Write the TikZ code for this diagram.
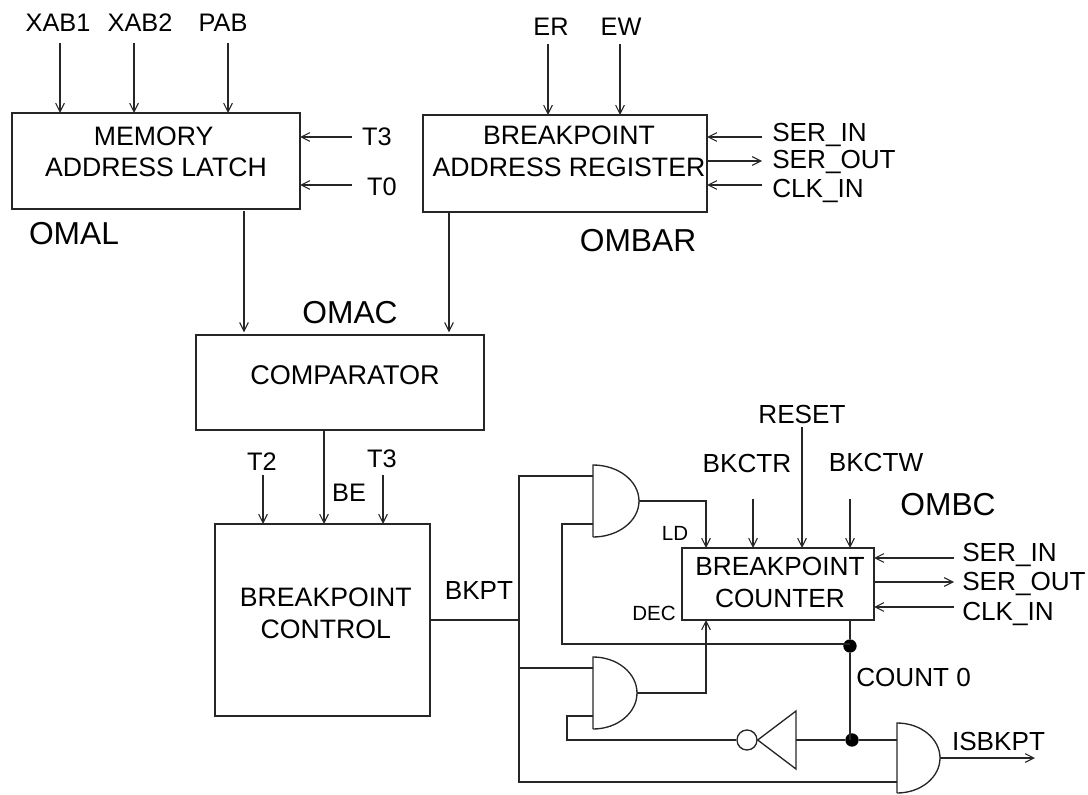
\documentclass[tikz,border=0pt]{standalone}
\usepackage{fontspec}
\setmainfont{Liberation Sans}
\usetikzlibrary{arrows.meta}
\tikzset{
  x=0.75pt,y=-0.75pt,
  wire/.style={draw=black!85,line width=1pt},
  arr/.style={wire,-{Straight Barb[length=6.5pt,width=6.5pt,line width=.8pt]}},
  bx/.style n args={2}{draw=black!85,line width=1pt,inner sep=0pt,outer sep=0pt,align=center,
    font=\fontsize{20}{23.5}\selectfont,minimum width=#1*0.75pt,minimum height=#2*0.75pt},
  txt/.style={inner sep=0pt,font=\fontsize{19.6}{22}\selectfont},
  toptxt/.style={inner sep=0pt,font=\fontsize{19}{22}\selectfont},
  big/.style={inner sep=0pt,font=\fontsize{23.8}{26}\selectfont},
  small/.style={inner sep=0pt,font=\fontsize{15.4}{18}\selectfont},
  gatebox/.style n args={2}{inner sep=0pt,outer sep=0pt,minimum width=#1*0.75pt,minimum height=#2*0.75pt},
  dot/.style={circle,fill=black,inner sep=0pt,minimum size=10pt},
}
\newcommand{\andgate}[5]{% name, x left, y top, width, height
  \node[gatebox={#4}{#5},anchor=north west] (#1) at (#2,#3) {};
  \draw[wire] (#1.south west) -- (#1.north west)
    arc[start angle=90,end angle=-90,x radius=#4*0.75pt,y radius=#5*0.375pt];
}
\begin{document}
\begin{tikzpicture}
\useasboundingbox (0,0) rectangle (1088,795);
% boxes
\node[bx={288}{96}] (mal) at (156,161) {MEMORY\hspace*{3.5pt}\\ADDRESS LATCH\hspace*{3.5pt}\\[-16.75pt]\strut};
\node[bx={284}{97}] (bar) at (565,163.5) {\hspace*{6pt}BREAKPOINT\\\hspace*{6pt}ADDRESS REGISTER\\[-12.25pt]\strut};
\node[bx={288}{95}] (cmp) at (340,382.5) {\hspace*{7.5pt}\fontsize{20.3}{23.5}\selectfont COMPARATOR\\[-19pt]\strut};
\node[bx={215}{192}] (ctl) at (322.5,620) {\hspace*{5pt}BREAKPOINT\\\hspace*{5pt}CONTROL\\[-20.5pt]\strut};
\node[bx={192}{72}] (cnt) at (778,584) {\hspace*{3pt}\fontsize{19.7}{23.5}\selectfont BREAKPOINT\\\hspace*{3pt}\fontsize{19.7}{23.5}\selectfont COUNTER\\[-28pt]\strut};
% top labels
\node[toptxt] (lxab1) at (58,23) {XAB1};
\node[toptxt] (lxab2) at (140,23) {XAB2};
\node[toptxt] (lpab) at (223,23) {PAB};
\node[toptxt] (lt3a) at (377,137) {T3};
\node[toptxt] (lt0) at (382,187) {T0};
\node[big] (omal) at (74,234) {OMAL};
\node[toptxt] (ler) at (551,27) {ER};
\node[toptxt] (lew) at (621,27) {EW};
\node[txt,anchor=west] (lsi1) at (772,135) {SER\_IN};
\node[txt,anchor=west] (lso1) at (772,162) {SER\_OUT};
\node[txt,anchor=west] (lci1) at (772,191) {CLK\_IN};
\node[big] (ombar) at (638,241) {OMBAR};
\node[big] (omac) at (350,313) {OMAC};
\node[toptxt] (lt2) at (262,462) {T2};
\node[toptxt] (lt3b) at (382,459) {T3};
\node[toptxt] (lbe) at (349,493) {BE};
\node[txt] (lbkpt) at (479,591) {BKPT};
\node[txt] (lbkctr) at (747,464) {BKCTR};
\node[txt] (lreset) at (802,415) {RESET};
\node[txt] (lbkctw) at (876,462) {BKCTW};
\node[big] (ombc) at (948,505) {OMBC};
\node[small] (lld) at (675,533) {LD};
\node[small] (ldec) at (654,613) {DEC};
\node[txt,anchor=west] (lsi2) at (962,555) {SER\_IN};
\node[txt,anchor=west] (lso2) at (962,584) {SER\_OUT};
\node[txt,anchor=west] (lci2) at (962,614) {CLK\_IN};
\node[txt,anchor=west] (lcount) at (856,677) {COUNT 0};
\node[txt] (lisb) at (998.5,741) {ISBKPT};
% free ends
\coordinate (a1) at (60,43);
\coordinate (a2) at (134,43);
\coordinate (a3) at (228,43);
\coordinate (a4) at (352,137);
\coordinate (a5) at (352,185);
\coordinate (b1) at (548,44);
\coordinate (b2) at (620,44);
\coordinate (b3) at (762,137);
\coordinate (b4) at (762,161);
\coordinate (b5) at (762,185);
\coordinate (c1) at (244,211);
\coordinate (c2) at (449,212);
\coordinate (d1) at (263,475);
\coordinate (d2) at (383,475);
\coordinate (d3) at (324,430);
\coordinate (e1) at (753,499);
\coordinate (e2) at (802,427);
\coordinate (e3) at (850,499);
\coordinate (f1) at (954,558);
\coordinate (f2) at (954,582);
\coordinate (f3) at (954,607);
\coordinate (g1) at (1035,758);
% top arrows
\draw[arr] (a1) -- (a1 |- mal.north);
\draw[arr] (a2) -- (a2 |- mal.north);
\draw[arr] (a3) -- (a3 |- mal.north);
\draw[arr] (a4) -- (a4 -| mal.east);
\draw[arr] (a5) -- (a5 -| mal.east);
\draw[arr] (b1) -- (b1 |- bar.north);
\draw[arr] (b2) -- (b2 |- bar.north);
\draw[arr] (b3) -- (b3 -| bar.east);
\draw[arr] (bar.east |- b4) -- (b4);
\draw[arr] (b5) -- (b5 -| bar.east);
\draw[arr,shorten >=2pt] (c1) -- (c1 |- cmp.north);
\draw[arr,shorten >=2pt] (c2) -- (c2 |- cmp.north);
\draw[arr] (d1) -- (d1 |- ctl.north);
\draw[arr] (d2) -- (d2 |- ctl.north);
\draw[arr] (d3) -- (d3 |- ctl.north);
\draw[arr] (e1) -- (e1 |- cnt.north);
\draw[arr] (e2) -- (e2 |- cnt.north);
\draw[arr] (e3) -- (e3 |- cnt.north);
\draw[arr] (f1) -- (f1 -| cnt.east);
\draw[arr] (cnt.east |- f2) -- (f2);
\draw[arr] (f3) -- (f3 -| cnt.east);
% gates
\andgate{g1a}{593}{465}{46}{72}
\andgate{g2a}{593}{657}{44}{72}
\andgate{g3a}{897}{723}{43}{70}
% inverter
\node[circle,draw=black!85,line width=1pt,inner sep=0pt,minimum size=15pt] (bub) at (747,740) {};
\coordinate (tri) at (796,740);
\draw[wire] (bub.east) -- (796,711) -- (796,769) -- cycle;
% junctions
\node[dot] (j1) at (850,646) {};
\node[dot] (j2) at (852,740) {};
\coordinate (bus) at (519,620);
\coordinate (g1i1) at (593,476);
\coordinate (g1i2) at (593,524);
\coordinate (g2i1) at (593,668);
\coordinate (g2i2) at (593,716);
\coordinate (g3i1) at (897,740);
\coordinate (g3i2) at (897,782);
% wiring
\draw[wire] (ctl.east) -- (bus);
\draw[wire] (g1i1) -- (g1i1 -| bus) -- (g3i2 -| bus) -- (g3i2);
\draw[wire] (g2i1) -- (g2i1 -| bus);
\draw[wire] (g1i2) -- (562,524) -- (562,644) -- (850,644);
\draw[wire] (e3 |- cnt.south) -- (j1) -- (e3 |- g3i1);
\draw[wire] (tri) -- (j2) -- (g3i1);
\draw[wire] (g2i2) -- (567,716) -- (567,740) -- (bub.west);
\draw[arr] (g1a.east) -| (706,548);
\draw[arr] (g2a.east) -| (706,620);
\draw[arr] (g3a.east) -- (g1);
\end{tikzpicture}
\end{document}
